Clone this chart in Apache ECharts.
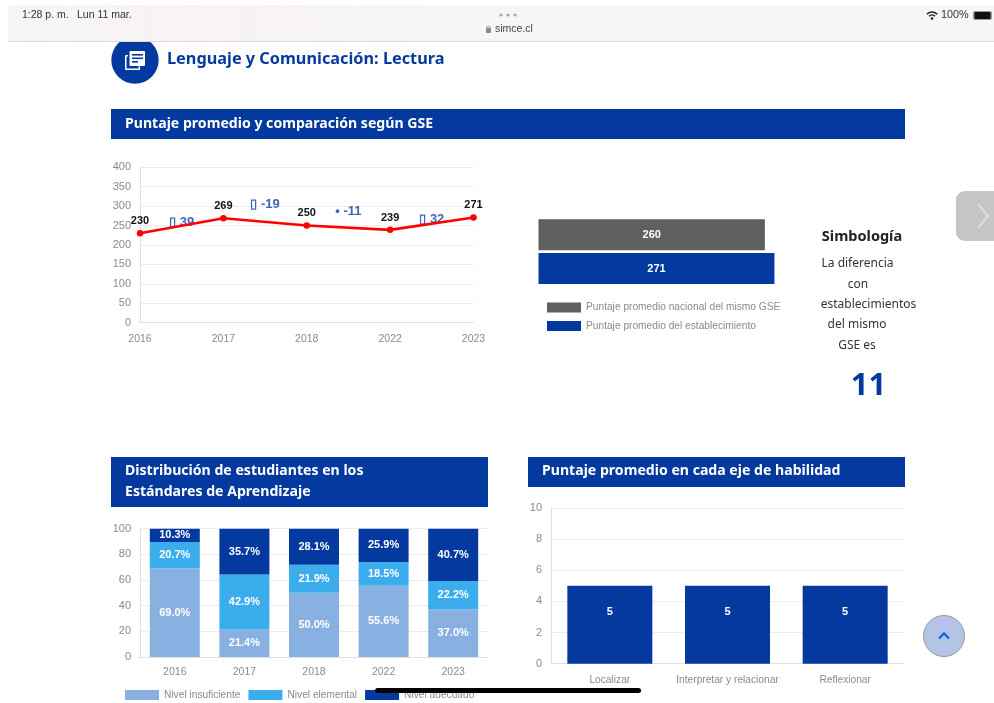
<!DOCTYPE html>
<html lang="es">
<head>
<meta charset="utf-8">
<title>Lenguaje y Comunicación: Lectura</title>
<script src="https://cdn.jsdelivr.net/npm/echarts@6/dist/echarts.min.js"></script>
<style>html,body{margin:0;padding:0;background:#fff}#c{width:994px;height:703px}</style>
</head>
<body>
<div id="c"></div>
<script>
// ---- data ----
const years = ['2016','2017','2018','2022','2023'];
const lineScores = [230,269,250,239,271];
const diffPositions = [0.5,1.5,2.5,3.5];
const diffHeights = [257,305,286,266];
const diffLabels = ['▯ 39','▯ -19','• -11','▯ 32'];
const gseCategories = ['Nacional','Establecimiento'];
const nationalName = 'Puntaje promedio nacional del mismo GSE';
const schoolName = 'Puntaje promedio del establecimiento';
const nationalScore = [260,null];
const schoolScore = [null,271];
const insuficiente = [69.0,21.4,50.0,55.6,37.0];
const elemental = [20.7,42.9,21.9,18.5,22.2];
const adecuado = [10.3,35.7,28.1,25.9,40.7];
const skills = ['Localizar','Interpretar y relacionar','Reflexionar'];
const skillScores = [5,5,5];
const symbolLines = ['La diferencia','con','establecimientos','del mismo','GSE es'];
const symbolX = [857.5,858,868.5,857,857];
const symbolY = [264,285,305,325,346];

// ---- styles ----
const BLUE='#043a9f', GRAY='#8a8a8a', GRID='#ececec', AXIS='#e0e0e0';
const SANS='"Liberation Sans",Arial,sans-serif', HEAD='"Noto Sans",sans-serif';
const axisCommon = {
  axisTick:{show:false},
  axisLine:{show:true,lineStyle:{color:AXIS}},
  axisLabel:{color:GRAY,fontSize:10.5,fontFamily:SANS,margin:9},
  splitLine:{show:true,lineStyle:{color:GRID}}
};
const yLabel={color:GRAY,fontSize:11,fontFamily:SANS,margin:9,padding:[2,0,0,0]};
const t=(text,x,y,o={})=>({type:'text',z:100,style:Object.assign({text,x,y,fill:'#222',fontFamily:SANS,fontSize:11,verticalAlign:'middle',align:'left'},o)});
const r=(x,y,w,h,fill,rad)=>({type:'rect',z:100,shape:{x,y,width:w,height:h,r:rad||0},style:{fill}});
const header=(x,y,w,h)=>r(x,y,w,h,BLUE);
const H={fill:'#fff',fontFamily:HEAD,fontWeight:'bold',fontSize:14.1};

const graphicEls=[
  // titled section
  {type:'circle',z:99,shape:{cx:135,cy:60,r:23.7},style:{fill:BLUE}},
  // browser bar
  r(0,0,994,5,'#fff'),
  r(8,5,986,36,'#f6f6f6'),
  {type:'rect',z:100,shape:{x:8,y:5,width:420,height:36},style:{fill:{type:'linear',x:0,y:0,x2:1,y2:0,colorStops:[{offset:0,color:'rgba(255,236,236,0)'},{offset:.45,color:'rgba(255,236,236,.35)'},{offset:1,color:'rgba(255,236,236,0)'}]}}},
  r(8,41,986,1,'#dcdcdc'),
  t('1:28 p. m.',22,15.5,{fontSize:10.5,fill:'#333'}),
  t('Lun 11 mar.',77,15.5,{fontSize:10.5,fill:'#333'}),
  {type:'circle',z:100,shape:{cx:501,cy:15,r:1.6},style:{fill:'#aaa'}},
  {type:'circle',z:100,shape:{cx:508,cy:15,r:1.6},style:{fill:'#aaa'}},
  {type:'circle',z:100,shape:{cx:515,cy:15,r:1.6},style:{fill:'#aaa'}},
  r(486,28,5,5,'#888',1),
  {type:'arc',z:100,shape:{cx:488.5,cy:28,r:1.8,startAngle:Math.PI,endAngle:0},style:{stroke:'#888',fill:'none',lineWidth:1}},
  t('simce.cl',495,29.5,{fontSize:10.5,fill:'#444'}),
  {type:'arc',z:100,shape:{cx:932,cy:19,r:7,startAngle:-2.4,endAngle:-0.74},style:{stroke:'#222',fill:'none',lineWidth:1.6}},
  {type:'arc',z:100,shape:{cx:932,cy:19,r:4,startAngle:-2.4,endAngle:-0.74},style:{stroke:'#222',fill:'none',lineWidth:1.6}},
  {type:'circle',z:100,shape:{cx:932,cy:18.5,r:1.3},style:{fill:'#222'}},
  t('100%',941,15.5,{fontSize:10.8,fill:'#333'}),
  r(973,11,19,9,'#999',2), r(974.5,12,16,7,'#111',1),

  // icon
  r(125,55,15,15,'#fff',1), r(126.5,56.5,12,12,BLUE),
  r(128,49.7,17.5,16.5,BLUE), r(129.5,51,15.5,15,'#fff',1),
  r(132,54,11,1.6,BLUE), r(132,57.5,11,1.6,BLUE), r(132,61,6,1.6,BLUE),
  t('Lenguaje y Comunicación: Lectura',167,59.5,{fill:BLUE,fontFamily:HEAD,fontWeight:'bold',fontSize:16.3}),

  header(111,109,794,30),
  t('Puntaje promedio y comparación según GSE',125,124,H),
  header(111,457,377,50),
  t('Distribución de estudiantes en los',125,471,H),
  t('Estándares de Aprendizaje',125,491.5,H),
  header(528,457,377,30),
  t('Puntaje promedio en cada eje de habilidad',542,471,H),

  t('Simbología',862,236.5,{fontFamily:HEAD,fontWeight:'bold',fontSize:14.5,align:'center',fill:'#222'}),
  ...symbolLines.map((s,i)=>t(s,symbolX[i],symbolY[i],{fontFamily:HEAD,fontSize:12,align:'center',fill:'#333'})),
  t('11',868.5,386,{fontFamily:HEAD,fontWeight:'bold',fontSize:31,align:'center',fill:BLUE}),

  // floating controls
  {type:'rect',z:100,shape:{x:956,y:191,width:50,height:50,r:9},style:{fill:'#c6c6c6'}},
  {type:'polyline',z:100,shape:{points:[[978,204],[988,216],[978,228]]},style:{stroke:'#e2e2e2',fill:'none',lineWidth:1.6}},
  {type:'circle',z:100,shape:{cx:944,cy:636,r:20.5},style:{fill:'#b3c4e6',stroke:'#999',lineWidth:1}},
  {type:'polyline',z:101,shape:{points:[[939,638.5],[944,633.5],[949,638.5]]},style:{stroke:'#0a6fe8',fill:'none',lineWidth:2.4}},
  // clipped page bottom + home indicator
  r(0,700,994,3,'#fff'),
  r(375,688,266,5,'#000',2.5)
];

const option={
  animation:false,
  backgroundColor:'#fff',
  textStyle:{fontFamily:SANS},
  graphic:{elements:graphicEls},
  grid:[
    {left:140,top:167.3,width:333.5,height:155.4},
    {left:538.5,top:218,width:261.2,height:67.4},
    {left:140,top:528.7,width:348,height:128.3},
    {left:551,top:508,width:353,height:155.7}
  ],
  xAxis:[
    Object.assign({},axisCommon,{gridIndex:0,type:'category',data:years,boundaryGap:false,splitLine:{show:false},axisLabel:Object.assign({},axisCommon.axisLabel,{margin:11,showMinLabel:true,showMaxLabel:true})}),
    {gridIndex:0,type:'value',min:0,max:4,show:false},
    {gridIndex:1,type:'value',min:0,max:300,show:false},
    Object.assign({},axisCommon,{gridIndex:2,type:'category',data:years,splitLine:{show:false},axisLabel:Object.assign({},axisCommon.axisLabel,{margin:10})}),
    Object.assign({},axisCommon,{gridIndex:3,type:'category',data:skills,splitLine:{show:false},axisLabel:Object.assign({},axisCommon.axisLabel,{margin:11,interval:0,fontSize:10.2})})
  ],
  yAxis:[
    Object.assign({},axisCommon,{gridIndex:0,type:'value',min:0,max:400,interval:50,axisLabel:yLabel}),
    {gridIndex:1,type:'category',data:gseCategories,inverse:true,show:false},
    Object.assign({},axisCommon,{gridIndex:2,type:'value',min:0,max:100,interval:20,axisLabel:yLabel}),
    Object.assign({},axisCommon,{gridIndex:3,type:'value',min:0,max:10,interval:2,axisLabel:yLabel})
  ],
  legend:[
    {data:[nationalName,schoolName],orient:'vertical',left:547,top:302.5,padding:0,itemWidth:34,itemHeight:10,itemGap:8.6,icon:'rect',
     textStyle:{color:GRAY,fontSize:10.2,fontFamily:SANS,padding:[0,0,0,0]}},
    {data:['Nivel insuficiente','Nivel elemental','Nivel adecuado'],left:125,top:690,padding:0,itemWidth:34,itemHeight:10,itemGap:8,icon:'rect',
     textStyle:{color:GRAY,fontSize:10.2,fontFamily:SANS}}
  ],
  series:[
    {name:'Puntaje',type:'line',xAxisIndex:0,yAxisIndex:0,data:lineScores,smooth:false,
     symbol:'circle',symbolSize:6.5,lineStyle:{color:'#ff0000',width:2.6},itemStyle:{color:'#ff0000'},
     label:{show:true,position:'top',distance:3.5,color:'#111',fontSize:11,fontWeight:'bold',fontFamily:SANS}},
    {name:'Diferencia',type:'scatter',xAxisIndex:1,yAxisIndex:0,symbolSize:0,
     data:diffPositions.map((p,i)=>[p,diffHeights[i]]),
     label:{show:true,position:'inside',color:'#0f3fa6',fontSize:13,fontWeight:'bold',fontFamily:SANS,
       formatter:p=>diffLabels[p.dataIndex]}},
    {name:nationalName,type:'bar',xAxisIndex:2,yAxisIndex:1,data:nationalScore,barWidth:31,barGap:'-100%',
     itemStyle:{color:'#5f5f5f'},label:{show:true,position:'inside',color:'#fff',fontSize:11,fontWeight:'bold'}},
    {name:schoolName,type:'bar',xAxisIndex:2,yAxisIndex:1,data:schoolScore,barWidth:31,barGap:'-100%',
     itemStyle:{color:BLUE},label:{show:true,position:'inside',color:'#fff',fontSize:11,fontWeight:'bold'}},
    ...[['Nivel insuficiente',insuficiente,'#88b1e2'],['Nivel elemental',elemental,'#3baded'],['Nivel adecuado',adecuado,BLUE]].map(([name,data,color])=>({
      name,type:'bar',stack:'nivel',xAxisIndex:3,yAxisIndex:2,data,barWidth:50,itemStyle:{color},
      label:{show:true,position:'inside',color:'#fff',fontSize:11,fontWeight:'bold',formatter:p=>p.value.toFixed(1)+'%'}
    })),
    {name:'Eje',type:'bar',xAxisIndex:4,yAxisIndex:3,data:skillScores,barWidth:85,itemStyle:{color:BLUE},
     label:{show:true,position:'inside',offset:[0,-13],color:'#fff',fontSize:11,fontWeight:'bold'}}
  ]
};
const chart=echarts.init(document.getElementById('c'),null,{renderer:'canvas',width:994,height:703});
chart.setOption(option);
</script>
</body>
</html>
